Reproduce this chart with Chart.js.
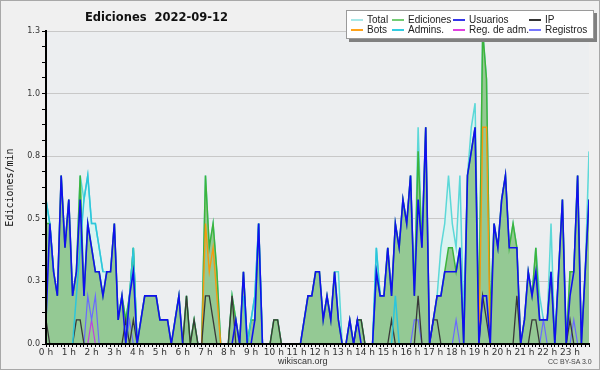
<!DOCTYPE html>
<html>
<head>
<meta charset="utf-8">
<script src="https://cdn.jsdelivr.net/npm/chart.js@4.4.1/dist/chart.umd.min.js"></script>
<style>
  body { margin: 0; background: #f0f0f0; }
  #wrap { position: relative; width: 600px; height: 370px; overflow: hidden; background: #f0f0f0; }
  #chart { position: absolute; left: 0; top: 0; }
  #frame { position: absolute; left: 0; top: 0; width: 600px; height: 370px; box-sizing: border-box; border: 1px solid #a8a8a8; pointer-events: none; }
  .title { position: absolute; left: 85px; top: 10px; font: bold 11.5px 'DejaVu Sans', sans-serif; color: #111; white-space: pre; }
  .legend { position: absolute; left: 346px; top: 10px; width: 246px; height: 27px; background: #fff; border: 1px solid #9a9a9a; box-shadow: 3px 3px 0 #808080; }
  .lg-text { position: absolute; font: 10px 'Liberation Sans', sans-serif; color: #222; line-height: 11px; white-space: pre; }
  .lg-sw { position: absolute; width: 12px; height: 1.5px; }
  .foot { position: absolute; font: 9px 'Liberation Sans', sans-serif; color: #333; white-space: pre; }
  .cc { position: absolute; font: 7px 'Liberation Sans', sans-serif; color: #444; white-space: pre; }
</style>
</head>
<body>
<div id="wrap">
  <canvas id="chart" width="600" height="370"></canvas>
  <div class="title">Ediciones  2022-09-12</div>
  <div class="legend"></div>
  <div class="foot" style="left:278px; top:356px;">wikiscan.org</div>
  <div class="cc" style="left:548px; top:358px;">CC BY-SA 3.0</div>
  <div id="frame"></div>
</div>
<script>
// edits per minute, one value per 10-minute slot (144 slots, 0:00 .. 23:50)
const total = [
  .6,.5,.3,.2,.7,.4,  .6,.2,.3,.7,.6,.7,  .5,.5,.4,.3,.3,.3,  .5,.1,.2,.1,.2,.4,
  0,.1,.2,.2,.2,.2,   .1,.1,.1,0,.1,.2,   0,.2,0,.1,0,0,      .7,.4,.5,.3,0,0,
  0,.2,.1,0,.3,0,     .1,.2,.5,0,0,0,     .1,.1,0,0,0,0,      0,0,.1,.2,.2,.3,
  .3,.1,.2,.1,.3,.3,  0,0,.1,0,.1,.1,     0,0,0,.4,.2,.2,     .4,.2,.5,.4,.6,.5,
  .7,.2,.9,.4,.9,0,   .1,.2,.4,.5,.7,.5,  .4,.7,.1,.7,.9,1.0, .1,1.3,1.1,.1,.5,.4,
  .6,.7,.4,.5,.4,0,   .1,.3,.2,.4,.2,.1,  .1,.5,0,.3,.6,0,    .3,.3,.7,0,.3,.8
];
const edits = [
  .5,.5,.3,.2,.7,.4,  .6,.2,.3,.7,.2,.5,  .4,.3,.3,.2,.3,.3,  .5,.1,.2,.1,.2,.4,
  0,.1,.2,.2,.2,.2,   .1,.1,.1,0,.1,.2,   0,.2,0,.1,0,0,      .7,.4,.5,.3,0,0,
  0,.2,.1,0,.3,0,     .1,.1,.5,0,0,0,     .1,.1,0,0,0,0,      0,0,.1,.2,.2,.3,
  .3,.1,.2,.1,.3,.1,  0,0,.1,0,.1,.1,     0,0,0,.3,.2,.2,     .4,.2,.5,.4,.6,.5,
  .7,.2,.8,.4,.9,0,   .1,.2,.2,.3,.4,.4,  .3,.4,0,.7,.8,.9,   .1,1.3,1.1,.1,.5,.4,
  .6,.7,.4,.5,.4,0,   .1,.3,.2,.4,.1,.1,  .1,.3,0,.3,.6,0,    .3,.3,.7,0,.3,.6
];
const users = [
  .1,.5,.3,.2,.7,.4,  .6,.2,.3,.6,.2,.5,  .4,.3,.3,.2,.3,.3,  .5,.1,.2,0,.2,.3,
  0,.1,.2,.2,.2,.2,   .1,.1,.1,0,.1,.2,   0,0,0,0,0,0,        0,0,0,0,0,0,
  0,0,.1,0,.3,0,      0,.1,.5,0,0,0,      0,0,0,0,0,0,        0,0,.1,.2,.2,.3,
  .3,.1,.2,.1,.3,.1,  0,0,.1,0,.1,0,      0,0,0,.3,.2,.2,     .4,.2,.5,.4,.6,.5,
  .7,.2,.6,.4,.9,0,   .1,.2,.2,.3,.3,.3,  .3,.4,0,.7,.8,.9,   0,.2,.2,0,.5,.4,
  .6,.7,.4,.4,.4,0,   .1,.3,.2,.3,.1,.1,  .1,.3,0,.3,.6,0,    .2,.3,.7,0,.3,.6
];
const ip = [
  .1,0,0,0,0,0,  0,0,.1,.1,0,0,  0,0,0,0,0,0,  0,0,0,.1,0,.1,
  0,0,0,0,0,0,   0,0,0,0,0,0,    0,.2,0,.1,0,0, .2,.2,.1,0,0,0,
  0,.2,0,0,0,0,  0,0,0,0,0,0,    .1,.1,0,0,0,0, 0,0,0,0,0,0,
  0,0,0,0,0,0,   0,0,0,0,.1,.1,  0,0,0,0,0,0,   0,.1,0,0,0,0,
  0,0,.2,0,0,0,  .1,.1,0,0,0,0,  0,0,0,0,0,0,   0,.2,.1,0,0,0,
  0,0,0,0,.2,0,  0,0,.1,.1,0,0,  0,0,0,0,0,0,   .1,0,0,0,0,0
];
const bots = [
  0,0,0,0,0,0,  0,0,0,0,0,0,  0,0,0,0,0,0,  0,0,0,0,0,0,
  0,0,0,0,0,0,  0,0,0,0,0,0,  0,0,0,0,0,0,  .5,.3,.4,.2,0,0,
  0,0,0,0,0,0,  0,0,0,0,0,0,  0,0,0,0,0,0,  0,0,0,0,0,0,
  0,0,0,0,0,0,  0,0,0,0,0,0,  0,0,0,0,0,0,  0,0,0,0,0,0,
  0,0,0,0,0,0,  0,0,0,0,0,0,  0,0,0,0,0,0,  0,.9,.9,0,0,0,
  0,0,0,0,0,0,  0,0,0,0,0,0,  0,0,0,0,0,0,  0,0,0,0,0,0
];
const admins = [
  .6,.5,.3,null,null,null,  null,0,.2,.4,.6,.7,  .5,.5,.4,.3,null,null,  null,null,null,0,.2,.4,
  0,null,null,null,null,null,  null,null,null,null,null,null,  null,null,null,null,null,null,  null,null,null,null,null,null,
  null,null,null,null,.2,0,  .1,.2,.5,0,null,null,  null,null,null,null,null,null,  null,null,null,null,null,null,
  null,null,null,null,null,null,  null,null,null,null,null,null,  null,null,0,.4,.2,.2,  null,0,.2,0,null,null,
  null,null,null,null,null,null,  null,null,null,null,null,null,  null,null,null,null,null,null,  null,null,null,null,null,null,
  null,null,null,null,null,null,  null,null,null,null,null,null,  null,null,null,null,null,null,  null,null,null,null,null,null
];
const regAdm = [
  0,0,0,0,0,0,  0,0,0,0,0,0,  .1,0,0,0,0,0,  0,0,0,0,0,0,
  0,0,0,0,0,0,  0,0,0,0,0,0,  0,0,0,0,0,0,  0,0,0,0,0,0,
  0,0,0,0,0,0,  0,0,0,0,0,0,  0,0,0,0,0,0,  0,0,0,0,0,0,
  0,0,0,0,0,0,  0,0,0,0,0,0,  0,0,0,0,0,0,  0,0,0,0,0,0,
  0,0,0,0,0,0,  0,0,0,0,0,0,  0,0,0,0,0,0,  0,0,0,0,0,0,
  0,0,0,0,0,0,  0,0,0,0,0,0,  0,0,0,0,0,0,  0,0,0,0,0,0
];
const registros = [
  0,0,0,0,0,0,  0,0,0,0,0,.2,  .1,.2,0,0,0,0,  0,0,0,0,.1,0,
  0,0,0,0,0,0,  0,0,0,0,0,0,   0,0,0,0,0,0,   0,0,0,0,0,0,
  0,0,0,0,0,0,  0,0,0,0,0,0,   0,0,0,0,0,0,   0,0,0,0,0,0,
  0,0,0,0,0,0,  0,0,0,0,0,0,   0,0,0,0,0,0,   0,0,0,0,0,0,
  0,.1,.1,0,0,0, 0,0,0,0,0,0,  .1,0,0,0,0,0,  0,0,0,0,0,0,
  0,0,0,0,0,0,  0,0,0,0,0,.1,  0,0,0,0,0,0,   0,.1,0,0,0,0
];

const hourLabels = ['0 h','1 h','2 h','3 h','4 h','5 h','6 h','7 h','8 h','9 h','10 h','11 h',
  '12 h','13 h','14 h','15 h','16 h','17 h','18 h','19 h','20 h','21 h','22 h','23 h'];
const yMajor = [0, 0.26, 0.52, 0.78, 1.04, 1.3];
const yLabels = ['0.0', '0.3', '0.5', '0.8', '1.0', '1.3'];

const legendNames = ['Total', 'Ediciones', 'Usuarios', 'IP', 'Bots', 'Admins.', 'Reg. de adm.', 'Registros'];
const legendColors = ['#a6e8e8', '#74cc74', '#3535e8', '#333333', '#ffa31a', '#33cce0', '#e040e0', '#7777ff'];

// legend (html, top right)
const legendCols = [367, 408, 469, 545];
const legendRows = [14, 24];
const lg = document.querySelector('.legend');
legendNames.forEach((name, k) => {
  const col = legendCols[k % 4] - 347, row = legendRows[Math.floor(k / 4)] - 11;
  const sw = document.createElement('div');
  sw.className = 'lg-sw';
  sw.style.left = (col - 16) + 'px';
  sw.style.top = (row + 5) + 'px';
  sw.style.background = legendColors[k];
  const t = document.createElement('div');
  t.className = 'lg-text';
  t.style.left = col + 'px';
  t.style.top = row + 'px';
  t.textContent = name;
  lg.appendChild(sw);
  lg.appendChild(t);
});

const pts = arr => arr.map((v, i) => ({ x: i, y: v }));

const plotBg = {
  id: 'plotBg',
  beforeDraw(chart) {
    const { ctx, chartArea: a } = chart;
    ctx.save();
    ctx.fillStyle = '#eceef0';
    ctx.fillRect(a.left, a.top, a.right - a.left, a.bottom - a.top);
    ctx.restore();
  }
};

// axis lines again on top of the series
const axisLines = {
  id: 'axisLines',
  afterDatasetsDraw(chart) {
    const { ctx, chartArea: a } = chart;
    ctx.save();
    ctx.strokeStyle = '#000';
    ctx.lineWidth = 2;
    ctx.beginPath();
    ctx.moveTo(a.left, a.top);
    ctx.lineTo(a.left, a.bottom);
    ctx.lineTo(a.right, a.bottom);
    ctx.stroke();
    ctx.restore();
  }
};

const line = (label, data, color, width, order, extra) => Object.assign({
  label, data: pts(data), borderColor: color, borderWidth: width,
  pointRadius: 0, tension: 0, fill: false, spanGaps: false, order
}, extra || {});

new Chart(document.getElementById('chart'), {
  type: 'line',
  data: {
    datasets: [
      line('Total', total, '#5cd8d8', 1.5, 8, { fill: 'origin', backgroundColor: '#dbf3f1' }),
      line('Ediciones', edits, '#3cb43c', 1.5, 7, { fill: 'origin', backgroundColor: '#94c994' }),
      line('Bots', bots, '#f59a10', 1.4, 6),
      line('Reg. de adm.', regAdm, '#c040e0', 1.2, 5),
      line('Registros', registros, '#6a6aff', 1.2, 4),
      line('IP', ip, '#383838', 1.3, 3),
      line('Admins.', admins, '#2cc6dc', 1.5, 2),
      line('Usuarios', users, '#1010ee', 1.6, 1)
    ]
  },
  options: {
    responsive: false,
    animation: false,
    devicePixelRatio: 1,
    layout: { padding: { top: 31, right: 11, left: 0, bottom: 0 } },
    plugins: { legend: { display: false }, tooltip: { enabled: false } },
    scales: {
      x: {
        type: 'linear', min: 0, max: 143,
        afterBuildTicks: s => { s.ticks = pts(total).map(p => ({ value: p.x })); },
        afterFit: s => { s.height = 26; },
        ticks: {
          autoSkip: false, maxRotation: 0, minRotation: 0, padding: 0,
          color: '#333', font: { family: "'DejaVu Sans'", size: 9 },
          callback: v => (v % 6 === 0 ? hourLabels[v / 6] : '')
        },
        grid: { drawOnChartArea: false, tickLength: 3, tickColor: '#000', color: '#000' },
        border: { color: '#000', width: 2 }
      },
      y: {
        min: 0, max: 1.3,
        afterBuildTicks: s => {
          const t = [];
          yMajor.forEach((m, k) => {
            t.push({ value: m });
            if (k < yMajor.length - 1) for (let j = 1; j < 4; j++) t.push({ value: m + (yMajor[k + 1] - m) * j / 4 });
          });
          s.ticks = t;
        },
        afterFit: s => { s.width = 46; },
        ticks: {
          padding: 2, color: '#333', font: { family: "'DejaVu Sans'", size: 8 },
          callback: (v, i) => (i % 4 === 0 ? yLabels[i / 4] : '')
        },
        grid: {
          color: c => (c.index % 4 === 0 && c.index > 0 ? '#c8c8c8' : 'rgba(0,0,0,0)'),
          tickColor: '#000', tickLength: 4
        },
        border: { color: '#000', width: 2 },
        title: {
          display: true, text: 'Ediciones/min', color: '#111',
          font: { family: "'DejaVu Sans Mono'", size: 10 }, padding: { top: 4, bottom: 0 }
        }
      }
    }
  },
  plugins: [plotBg, axisLines]
});
</script>
</body>
</html>
